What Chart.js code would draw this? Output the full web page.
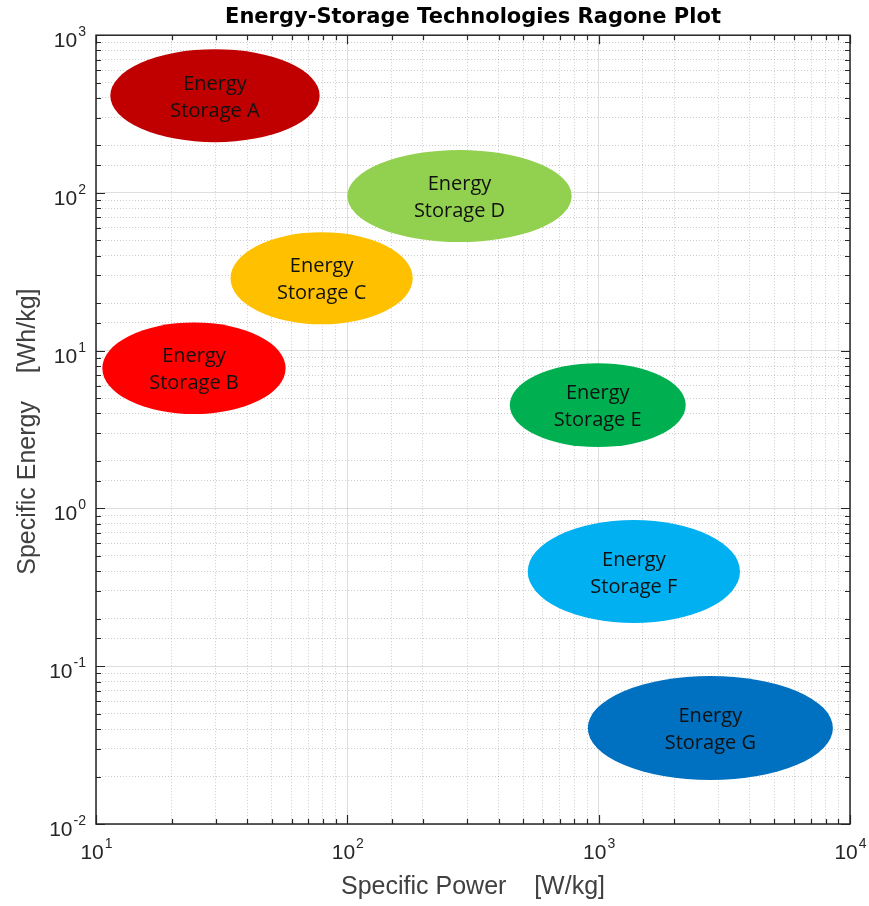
<!DOCTYPE html>
<html>
<head>
<meta charset="utf-8">
<title>Energy-Storage Technologies Ragone Plot</title>
<script src="https://cdn.jsdelivr.net/npm/chart.js@4/dist/chart.umd.min.js"></script>
<style>
  html, body { margin: 0; padding: 0; background: #ffffff; }
  #wrap { width: 869px; height: 906px; }
</style>
</head>
<body>
<div id="wrap"><canvas id="ragone" width="869" height="906"></canvas></div>
<script>
// Region of each technology on the Ragone plane:
// specific power range [W/kg] and specific energy range [Wh/kg]
const technologies = ['Energy Storage A', 'Energy Storage B', 'Energy Storage C', 'Energy Storage D',
                      'Energy Storage E', 'Energy Storage F', 'Energy Storage G'];
const labelLines = [
  ['Energy', 'Storage A'], ['Energy', 'Storage B'], ['Energy', 'Storage C'], ['Energy', 'Storage D'],
  ['Energy', 'Storage E'], ['Energy', 'Storage F'], ['Energy', 'Storage G']
];
const powerLow   = [11.4, 10.6, 34.3, 100, 443, 522, 905];
const powerHigh  = [77.6, 56.8, 182, 781, 2220, 3650, 8550];
const energyLow  = [210, 3.97, 14.7, 48.8, 2.45, 0.188, 0.019];
const energyHigh = [815, 15.1, 56.4, 187, 8.34, 0.844, 0.0867];
const fillColors = ['#C00000', '#FF0000', '#FFC000', '#92D050', '#00B050', '#00B0F0', '#0070C0'];

// Decade tick labels, written as 10 with an exponent
const xTickExponents = ['1', '2', '3', '4'];
const yTickExponents = ['-2', '-1', '0', '1', '2', '3'];

const xTitle = 'Specific Power    [W/kg]';
const yTitle = 'Specific Energy    [Wh/kg]';

const AXIS_COLOR = '#262626';
const LABEL_FONT = '"Liberation Sans", Arial, Helvetica, sans-serif';

function isDecade(v) {
  const l = Math.log10(v);
  return Math.abs(l - Math.round(l)) < 1e-9;
}

const gridColor = (ctx) => (ctx.tick && isDecade(ctx.tick.value)) ? 'rgba(0,0,0,0.13)' : 'rgba(0,0,0,0.2)';
const gridDash = (ctx) => (ctx.tick && isDecade(ctx.tick.value)) ? [] : [1, 2];

const ragonePlugin = {
  id: 'ragoneRegions',
  beforeDatasetsDraw(chart) {
    const {ctx, chartArea, scales: {x, y}} = chart;
    ctx.save();
    ctx.beginPath();
    ctx.rect(chartArea.left, chartArea.top, chartArea.right - chartArea.left, chartArea.bottom - chartArea.top);
    ctx.clip();
    technologies.forEach((name, i) => {
      const x0 = x.getPixelForValue(powerLow[i]);
      const x1 = x.getPixelForValue(powerHigh[i]);
      const y0 = y.getPixelForValue(energyHigh[i]);
      const y1 = y.getPixelForValue(energyLow[i]);
      const cx = (x0 + x1) / 2, cy = (y0 + y1) / 2;
      ctx.beginPath();
      ctx.ellipse(cx, cy, (x1 - x0) / 2, (y1 - y0) / 2, 0, 0, Math.PI * 2);
      ctx.fillStyle = fillColors[i];
      ctx.fill();
      ctx.fillStyle = '#111111';
      ctx.font = '20px "Open Sans", Lato, sans-serif';
      ctx.textAlign = 'center';
      ctx.textBaseline = 'middle';
      const lines = labelLines[i];
      const lh = 27;
      lines.forEach((t, k) => {
        ctx.fillText(t, cx, cy + 2 + (k - (lines.length - 1) / 2) * lh);
      });
    });
    ctx.restore();
  },
  afterDraw(chart) {
    const {ctx, chartArea: a, scales: {x, y}} = chart;
    ctx.save();
    // inward tick marks on all four sides
    ctx.strokeStyle = AXIS_COLOR;
    ctx.lineWidth = 1.2;
    ctx.beginPath();
    x.ticks.forEach(t => {
      const px = Math.round(x.getPixelForValue(t.value)) + 0.5;
      const len = isDecade(t.value) ? 9 : 5;
      ctx.moveTo(px, a.bottom); ctx.lineTo(px, a.bottom - len);
      ctx.moveTo(px, a.top); ctx.lineTo(px, a.top + len);
    });
    y.ticks.forEach(t => {
      const py = Math.round(y.getPixelForValue(t.value)) + 0.5;
      const len = isDecade(t.value) ? 9 : 5;
      ctx.moveTo(a.left, py); ctx.lineTo(a.left + len, py);
      ctx.moveTo(a.right, py); ctx.lineTo(a.right - len, py);
    });
    ctx.stroke();
    // axes box
    ctx.lineWidth = 1.5;
    ctx.strokeRect(a.left, a.top, a.right - a.left, a.bottom - a.top);

    // decade labels with superscript exponents
    ctx.fillStyle = AXIS_COLOR;
    const baseFont = '21px ' + LABEL_FONT;
    const expFont = '14px ' + LABEL_FONT;
    ctx.textBaseline = 'middle';
    ctx.textAlign = 'left';
    xTickExponents.forEach(e => {
      const px = x.getPixelForValue(Math.pow(10, Number(e)));
      ctx.font = baseFont; const wb = ctx.measureText('10').width;
      ctx.font = expFont; const we = ctx.measureText(e).width;
      const start = px - (wb + we) / 2;
      ctx.font = baseFont; ctx.fillText('10', start, a.bottom + 29);
      ctx.font = expFont; ctx.fillText(e, start + wb + 1, a.bottom + 20);
    });
    yTickExponents.forEach(e => {
      const py = y.getPixelForValue(Math.pow(10, Number(e)));
      ctx.font = baseFont; const wb = ctx.measureText('10').width;
      ctx.font = expFont; const we = ctx.measureText(e).width;
      const start = a.left - 11 - (wb + we);
      ctx.font = baseFont; ctx.fillText('10', start, py + 6);
      ctx.font = expFont; ctx.fillText(e, start + wb + 1, py - 3);
    });

    // axis titles
    ctx.font = '25px ' + LABEL_FONT;
    ctx.fillStyle = '#404040';
    ctx.textAlign = 'center';
    ctx.fillText(xTitle, (a.left + a.right) / 2, 887);
    ctx.translate(28, (a.top + a.bottom) / 2 + 2);
    ctx.rotate(-Math.PI / 2);
    ctx.fillText(yTitle, 0, 0);
    ctx.restore();
  }
};

const axisBase = {
  type: 'logarithmic',
  ticks: { display: false, autoSkip: false },
  grid: { color: gridColor, lineWidth: 1, drawTicks: false },
  border: { display: false, dash: gridDash }
};

new Chart(document.getElementById('ragone'), {
  type: 'scatter',
  data: { datasets: [] },
  options: {
    responsive: false,
    animation: false,
    layout: { padding: { left: 0, right: 19, top: 0, bottom: 0 } },
    plugins: {
      legend: { display: false },
      tooltip: { enabled: false },
      title: {
        display: true,
        fullSize: false,
        text: 'Energy-Storage Technologies Ragone Plot',
        color: '#000000',
        font: { family: '"DejaVu Sans", Verdana, sans-serif', size: 21, weight: 'bold', lineHeight: 1.2 },
        padding: { top: 5, bottom: 5 }
      }
    },
    scales: {
      x: Object.assign({}, axisBase, {
        min: 10, max: 10000, position: 'bottom',
        afterFit(scale) { scale.height = 82; }
      }),
      y: Object.assign({}, axisBase, {
        min: 0.01, max: 1000, position: 'left',
        afterFit(scale) { scale.width = 96; }
      })
    }
  },
  plugins: [ragonePlugin]
});
</script>
</body>
</html>
